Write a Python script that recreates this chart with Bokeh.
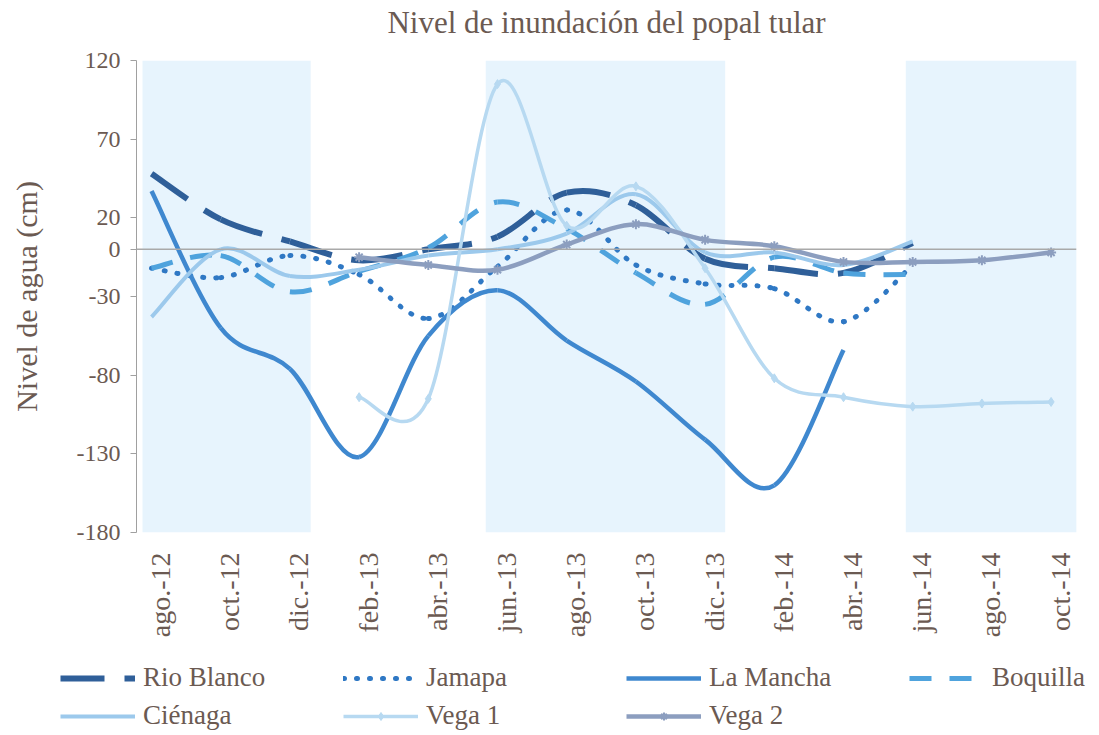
import math
from bokeh.plotting import figure
from bokeh.layouts import column
from bokeh.models import FixedTicker, Span, Legend, LegendItem, Range1d, Label
from bokeh.embed import file_html
from bokeh.resources import INLINE

# ---- data ----
labels = ["ago.-12", "oct.-12", "dic.-12", "feb.-13", "abr.-13", "jun.-13", "ago.-13",
          "oct.-13", "dic.-13", "feb.-14", "abr.-14", "jun.-14", "ago.-14", "oct.-14"]
months = list(range(len(labels)))

rio_blanco = [48, 19, 5, -7, 0, 8, 36, 28, -6, -12, -15, 4, None, None]
jamapa     = [-12, -18, -4, -16, -44, -11, 25, -10, -22, -25, -46, -10, None, None]
la_mancha  = [37, -50, -76, -132, -55, -26, -58, -84, -121, -150, -64, None, None, None]
boquilla   = [-12, -4, -27, -14, 1, 30, 13, -15, -35, -5, -15, -16, None, None]
cienaga    = [-43, 0, -17, -13, -4, 0, 10, 35, -2, -2, -10, 5, None, None]
vega1      = [None, None, None, -94, -95, 105, 15, 40, -12, -82, -94, -100, -98, -97]
vega2      = [None, None, None, -5, -10, -13, 3, 16, 6, 2, -8, -8, -7, -2]

season_start = [-0.13, 4.83, 10.9]
season_end   = [2.30, 8.29, 13.37]

yticks = [120, 70, 20, 0, -30, -80, -130, -180]
ytick_labels = ["120", "70", "20", "0", "-30", "-80", "-130", "-180"]

TITLE = "Nivel de inundación del popal tular"
TXT = "#6b5a52"
FONT = "Liberation Serif"

# ---- title strip ----
tf = figure(width=1099, height=44, output_backend="svg", toolbar_location=None,
            x_axis_type=None, y_axis_type=None,
            x_range=Range1d(0, 1099), y_range=Range1d(0, 1),
            min_border_left=0, min_border_right=0, min_border_top=0, min_border_bottom=0)
tf.frame_align = False
tf.outline_line_color = None
tf.grid.visible = False
tf.add_layout(Label(x=606, y=0.5, text=TITLE, text_align="center", text_baseline="middle",
                    text_font=FONT, text_font_size="31px", text_color=TXT))

# ---- main chart ----
p = figure(width=1099, height=596, output_backend="svg", toolbar_location=None,
           x_range=Range1d(-0.217, 13.367), y_range=Range1d(-180, 120),
           min_border_left=136, min_border_right=23, min_border_top=16, min_border_bottom=108)
p.frame_align = False
p.outline_line_color = None
p.grid.grid_line_color = None
p.background_fill_color = "white"

p.quad(left=season_start, right=season_end, top=120, bottom=-180,
       fill_color="#e7f4fd", line_color=None)
p.add_layout(Span(location=0, dimension="width", line_color="#a9a9a9", line_width=1.5))


def smooth_parts(xs, ys):
    pts = [(x, y) for x, y in zip(xs, ys) if y is not None]
    out = dict(x0=[], y0=[], x1=[], y1=[], cx0=[], cy0=[], cx1=[], cy1=[])
    n = len(pts)
    for i in range(n - 1):
        p0 = pts[i - 1] if i > 0 else pts[i]
        p1 = pts[i]
        p2 = pts[i + 1]
        p3 = pts[i + 2] if i + 2 < n else pts[i + 1]
        out["x0"].append(p1[0]); out["y0"].append(p1[1])
        out["x1"].append(p2[0]); out["y1"].append(p2[1])
        out["cx0"].append(p1[0] + (p2[0] - p0[0]) / 6.0)
        out["cy0"].append(p1[1] + (p2[1] - p0[1]) / 6.0)
        out["cx1"].append(p2[0] - (p3[0] - p1[0]) / 6.0)
        out["cy1"].append(p2[1] - (p3[1] - p1[1]) / 6.0)
    return out

series = [
    ("Rio Blanco", rio_blanco, dict(line_color="#2f5f99", line_width=6, line_dash="44 20")),
    ("Jamapa", jamapa, dict(line_color="#2f78c4", line_width=5, line_dash="1 12", line_cap="round")),
    ("La Mancha", la_mancha, dict(line_color="#3f88cf", line_width=4.5)),
    ("Boquilla", boquilla, dict(line_color="#4fa3dd", line_width=5, line_dash="22 18")),
    ("Ciénaga", cienaga, dict(line_color="#9cc9ec", line_width=4)),
    ("Vega 1", vega1, dict(line_color="#b7d9f1", line_width=3.5)),
    ("Vega 2", vega2, dict(line_color="#8c9ebf", line_width=4.5)),
]

# ---- legend strip (its renderers hold the first values of each series, outside its view) ----
lg = figure(width=1099, height=95, output_backend="svg", toolbar_location=None,
            x_axis_type=None, y_axis_type=None,
            x_range=Range1d(1000, 1001), y_range=Range1d(1000, 1001),
            min_border_left=0, min_border_right=0, min_border_top=0, min_border_bottom=0)
lg.frame_align = False
lg.outline_line_color = None
lg.grid.visible = False

items = []
for name, vals, style in series:
    parts = smooth_parts(months, vals)
    p.bezier(x0=parts["x0"], y0=parts["y0"], x1=parts["x1"], y1=parts["y1"],
             cx0=parts["cx0"], cy0=parts["cy0"], cx1=parts["cx1"], cy1=parts["cy1"], **style)
    xs = [m for m, v in zip(months, vals) if v is not None]
    ys = [v for v in vals if v is not None]
    rs = [lg.line(x=xs[:2], y=ys[:2], **style)]
    if name == "Vega 1":
        p.scatter(xs, ys, marker="diamond", size=9, color="#b7d9f1")
        rs.append(lg.scatter(x=xs[:1], y=ys[:1], marker="diamond", size=9, color="#b7d9f1"))
    if name == "Vega 2":
        p.scatter(xs, ys, marker="asterisk", size=10, line_color="#8c9ebf", line_width=2)
        rs.append(lg.scatter(x=xs[:1], y=ys[:1], marker="asterisk", size=10,
                             line_color="#8c9ebf", line_width=2))
    items.append(LegendItem(label=name, renderers=rs))

legend = Legend(items=items, ncols=4, orientation="horizontal", location=(60, 4),
                padding=0, margin=0,
                glyph_width=75, glyph_height=20, label_standoff=8, label_width=193,
                label_height=24, spacing=7, border_line_color=None,
                background_fill_alpha=0,
                label_text_font=FONT, label_text_font_size="27px", label_text_color=TXT)
lg.add_layout(legend, "center")

# y axis
p.yaxis.ticker = FixedTicker(ticks=yticks)
p.yaxis.major_label_overrides = {t: l for t, l in zip(yticks, ytick_labels)}
p.yaxis.axis_label = "Nivel de agua (cm)"
p.yaxis.axis_label_text_font = FONT
p.yaxis.axis_label_text_font_size = "30px"
p.yaxis.axis_label_text_font_style = "normal"
p.yaxis.axis_label_text_color = TXT
p.yaxis.axis_label_standoff = 31
p.yaxis.major_label_text_font = FONT
p.yaxis.major_label_text_font_size = "24px"
p.yaxis.major_label_text_color = TXT
p.yaxis.axis_line_color = "#a0a0a0"
p.yaxis.major_tick_line_color = "#a0a0a0"
p.yaxis.major_tick_out = 6
p.yaxis.major_tick_in = 0
p.yaxis.minor_tick_line_color = None
p.yaxis.major_label_standoff = 10

# x axis: labels only
label_offset = 0.13
xt = [m + label_offset for m in months]
p.xaxis.ticker = FixedTicker(ticks=xt)
p.xaxis.major_label_overrides = {t: l for t, l in zip(xt, labels)}
p.xaxis.major_label_orientation = math.pi / 2
p.xaxis.axis_line_color = None
p.xaxis.major_tick_line_color = None
p.xaxis.minor_tick_line_color = None
p.xaxis.major_label_standoff = 14
p.xaxis.major_label_text_font = FONT
p.xaxis.major_label_text_font_size = "28px"
p.xaxis.major_label_text_color = TXT

open("out.html", "w").write(file_html(column(tf, p, lg), INLINE))
